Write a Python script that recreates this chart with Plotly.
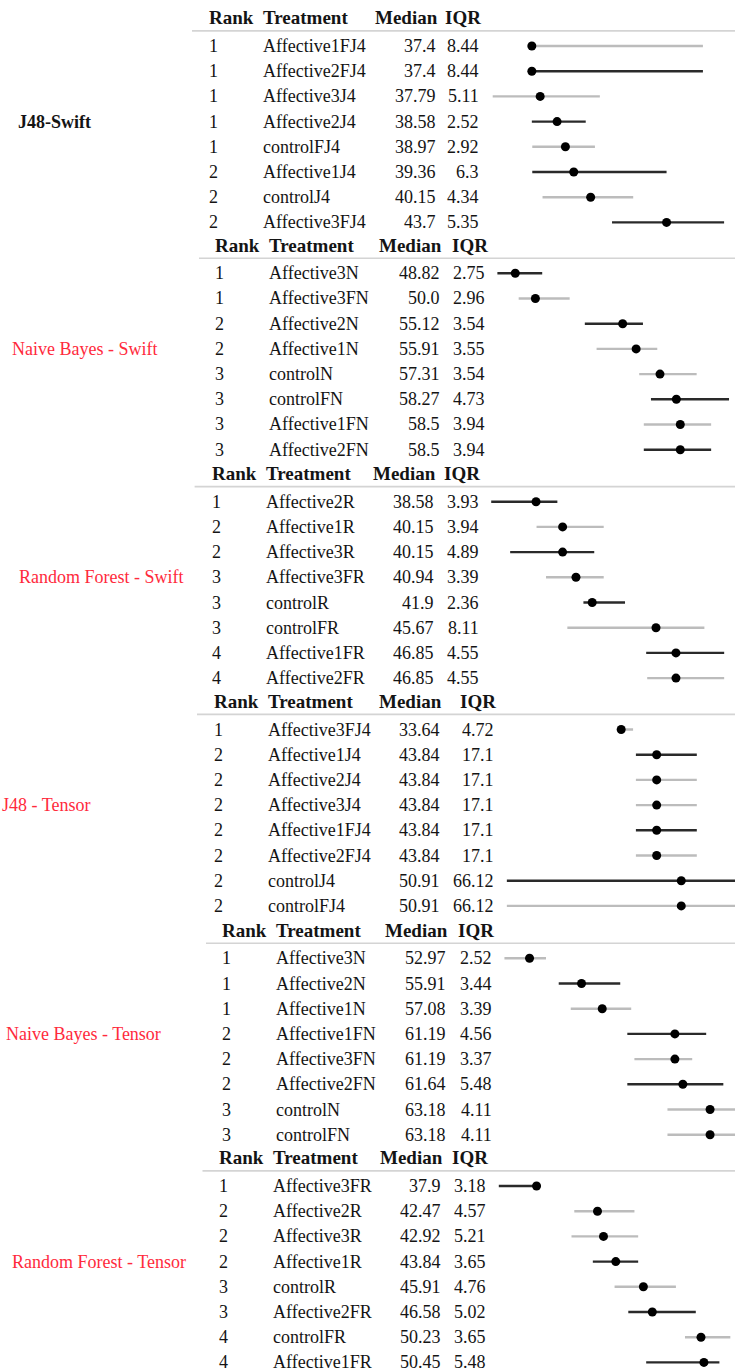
import plotly.graph_objects as go

W, H = 735, 1372
ROW_PX = 25.2

# ---------------- data ----------------
group_names = ["J48-Swift", "Naive Bayes - Swift", "Random Forest - Swift",
               "J48 - Tensor", "Naive Bayes - Tensor", "Random Forest - Tensor"]
header_labels = ["Rank", "Treatment", "Median", "IQR"]

g1_rank = [1, 1, 1, 1, 1, 2, 2, 2]
g1_treat = ["Affective1FJ4", "Affective2FJ4", "Affective3J4", "Affective2J4",
            "controlFJ4", "Affective1J4", "controlJ4", "Affective3FJ4"]
g1_median = [37.4, 37.4, 37.79, 38.58, 38.97, 39.36, 40.15, 43.7]
g1_iqr = [8.44, 8.44, 5.11, 2.52, 2.92, 6.3, 4.34, 5.35]
g1_low = [37.4, 37.4, 35.57, 37.4, 37.42, 37.42, 37.9, 41.15]
g1_high = [45.4, 45.4, 40.58, 39.92, 40.35, 43.7, 42.14, 46.39]

g2_rank = [1, 1, 2, 2, 3, 3, 3, 3]
g2_treat = ["Affective3N", "Affective3FN", "Affective2N", "Affective1N",
            "controlN", "controlFN", "Affective1FN", "Affective2FN"]
g2_median = [48.82, 50.0, 55.12, 55.91, 57.31, 58.27, 58.5, 58.5]
g2_iqr = [2.75, 2.96, 3.54, 3.55, 3.54, 4.73, 3.94, 3.94]
g2_low = [47.77, 49.02, 52.90, 53.59, 56.09, 56.78, 56.36, 56.36]
g2_high = [50.40, 52.01, 56.31, 57.15, 59.46, 61.36, 60.31, 60.31]

g3_rank = [1, 2, 2, 3, 3, 3, 4, 4]
g3_treat = ["Affective2R", "Affective1R", "Affective3R", "Affective3FR",
            "controlR", "controlFR", "Affective1FR", "Affective2FR"]
g3_median = [38.58, 40.15, 40.15, 40.94, 41.9, 45.67, 46.85, 46.85]
g3_iqr = [3.93, 3.94, 4.89, 3.39, 2.36, 8.11, 4.55, 4.55]
g3_low = [35.93, 38.61, 37.05, 39.17, 41.38, 40.43, 45.09, 45.15]
g3_high = [39.84, 42.58, 42.02, 42.58, 43.84, 48.53, 49.70, 49.70]

g4_rank = [1, 2, 2, 2, 2, 2, 2, 2]
g4_treat = ["Affective3FJ4", "Affective1J4", "Affective2J4", "Affective3J4",
            "Affective1FJ4", "Affective2FJ4", "controlJ4", "controlFJ4"]
g4_median = [33.64, 43.84, 43.84, 43.84, 43.84, 43.84, 50.91, 50.91]
g4_iqr = [4.72, 17.1, 17.1, 17.1, 17.1, 17.1, 66.12, 66.12]
g4_low = [32.68, 37.87, 37.87, 37.87, 37.87, 37.87, 0.77, 0.77]
g4_high = [37.06, 55.38, 55.38, 55.38, 55.38, 55.38, 82.0, 82.0]

g5_rank = [1, 1, 1, 2, 2, 2, 3, 3]
g5_treat = ["Affective3N", "Affective2N", "Affective1N", "Affective1FN",
            "Affective3FN", "Affective2FN", "controlN", "controlFN"]
g5_median = [52.97, 55.91, 57.08, 61.19, 61.19, 61.64, 63.18, 63.18]
g5_iqr = [2.52, 3.44, 3.39, 4.56, 3.37, 5.48, 4.11, 4.11]
g5_low = [51.55, 54.62, 55.30, 58.50, 58.90, 58.50, 60.77, 60.77]
g5_high = [53.90, 58.10, 58.72, 62.96, 62.17, 63.93, 65.5, 65.5]

g6_rank = [1, 2, 2, 2, 3, 3, 4, 4]
g6_treat = ["Affective3FR", "Affective2R", "Affective3R", "Affective1R",
            "controlR", "Affective2FR", "controlFR", "Affective1FR"]
g6_median = [37.9, 42.47, 42.92, 43.84, 45.91, 46.58, 50.23, 50.45]
g6_iqr = [3.18, 4.57, 5.21, 3.65, 4.76, 5.02, 3.65, 5.48]
g6_low = [35.07, 40.73, 40.52, 42.12, 43.75, 44.78, 49.03, 46.12]
g6_high = [37.9, 45.24, 45.52, 45.52, 48.35, 49.84, 52.43, 51.61]

# ---------------- styles / layout ----------------
shades = [
    "ldldldld",
    "dldlldld",
    "dldldldl",
    "ldlldldl",
    "ldldldll",
    "dlldldld",
]
DARK, LIGHT = "#2a2a2a", "#bcbcbc"
RED = "#ff2a3c"
TXT = "#141414"
FONT = "Liberation Serif"
FS = 18
FS_HEAD = 19

# per group: first-row pixel, label x, rank x, treatment x, median right, iqr right, rule x0, x-range
geo = [
    dict(f=46.0,   lab=16,  rk=207,   tr=261,   md=438,   iq=481,   rule=192,   xr=(35.35, 46.90), lc=TXT, bold=True),
    dict(f=273.3,  lab=10,  rk=213,   tr=267,   md=442,   iq=487.5, rule=199,   xr=(47.22, 61.71), lc=RED, bold=False),
    dict(f=501.7,  lab=17,  rk=209.5, tr=263.5, md=436,   iq=480.5, rule=194.6, xr=(35.74, 50.34), lc=RED, bold=False),
    dict(f=729.5,  lab=0,   rk=212,   tr=266,   md=441.5, iq=495.5, rule=197,   xr=(-4.65, 66.36), lc=RED, bold=False),
    dict(f=958.3,  lab=3.5, rk=220,   tr=274,   md=447.7, iq=493.7, rule=206,   xr=(50.62, 64.59), lc=RED, bold=False),
    dict(f=1186.0, lab=10,  rk=216.6, tr=270.5, md=443,   iq=487.6, rule=202.5, xr=(34.26, 52.78), lc=RED, bold=False),
]
PLOT_X0 = 488  # pixel left of whisker area

data = [
    (g1_rank, g1_treat, g1_median, g1_iqr, g1_low, g1_high),
    (g2_rank, g2_treat, g2_median, g2_iqr, g2_low, g2_high),
    (g3_rank, g3_treat, g3_median, g3_iqr, g3_low, g3_high),
    (g4_rank, g4_treat, g4_median, g4_iqr, g4_low, g4_high),
    (g5_rank, g5_treat, g5_median, g5_iqr, g5_low, g5_high),
    (g6_rank, g6_treat, g6_median, g6_iqr, g6_low, g6_high),
]

fig = go.Figure()
annotations = []
shapes = []
layout_axes = {}

TOP_U, BOT_U = -1.55, 7.45
HEAD_U, RULE_U = -1.12, -0.6

for g, (rank, treat, med, iqr, lo, hi) in enumerate(data):
    k = g + 1
    gm = geo[g]
    xa = "x" if k == 1 else f"x{k}"
    ya = "y" if k == 1 else f"y{k}"
    top_px = gm["f"] + TOP_U * ROW_PX
    bot_px = gm["f"] + BOT_U * ROW_PX
    bot_px_c = min(bot_px, H)
    r_end = TOP_U + (bot_px_c - top_px) / ROW_PX
    layout_axes["xaxis" if k == 1 else f"xaxis{k}"] = dict(
        domain=[PLOT_X0 / W, 1], range=list(gm["xr"]), anchor=ya,
        visible=False, showgrid=False, zeroline=False, fixedrange=True)
    layout_axes["yaxis" if k == 1 else f"yaxis{k}"] = dict(
        domain=[1 - bot_px_c / H, 1 - top_px / H], range=[r_end, TOP_U], anchor=xa,
        visible=False, showgrid=False, zeroline=False, fixedrange=True)

    rows = list(range(len(treat)))
    for i in rows:
        fig.add_trace(go.Scatter(
            x=[lo[i], hi[i]], y=[i, i], mode="lines", xaxis=xa, yaxis=ya,
            line=dict(color=DARK if shades[g][i] == "d" else LIGHT, width=2.4),
            hoverinfo="skip", showlegend=False))
    fig.add_trace(go.Scatter(
        x=med, y=rows, mode="markers", xaxis=xa, yaxis=ya,
        marker=dict(color="black", size=9), showlegend=False,
        text=treat, hovertemplate="%{text}: %{x}<extra></extra>"))

    yref = ya
    # header
    for lab, xpx, anc in zip(header_labels, [gm["rk"], gm["tr"], gm["md"] + 2, gm["iq"] + 2],
                             ["left", "left", "right", "right"]):
        annotations.append(dict(text=f"<b>{lab}</b>", x=xpx / W, xref="paper", y=HEAD_U, yref=yref,
                                xanchor=anc, yanchor="middle", showarrow=False,
                                font=dict(family=FONT, size=FS_HEAD, color=TXT)))
    # rule
    shapes.append(dict(type="line", xref="paper", yref=yref, x0=gm["rule"] / W, x1=1,
                       y0=RULE_U, y1=RULE_U, line=dict(color="#d4d4d4", width=1.6)))
    # rows
    for i in rows:
        cells = [(str(rank[i]), gm["rk"], "left"), (treat[i], gm["tr"], "left"),
                 (str(med[i]), gm["md"], "right"), (str(iqr[i]), gm["iq"], "right")]
        for txt, xpx, anc in cells:
            annotations.append(dict(text=txt, x=xpx / W, xref="paper", y=i, yref=yref,
                                    xanchor=anc, yanchor="middle", showarrow=False,
                                    font=dict(family=FONT, size=FS, color=TXT)))
    # group label
    lab_txt = f"<b>{group_names[g]}</b>" if gm["bold"] else group_names[g]
    annotations.append(dict(text=lab_txt, x=gm["lab"] / W, xref="paper", y=3, yref=yref,
                            xanchor="left", yanchor="middle", showarrow=False,
                            font=dict(family=FONT, size=FS, color=gm["lc"])))

fig.update_layout(
    width=W, height=H, margin=dict(l=0, r=0, t=0, b=0),
    paper_bgcolor="white", plot_bgcolor="rgba(0,0,0,0)",
    annotations=annotations, shapes=shapes, showlegend=False,
    **layout_axes)

fig.write_html("out.html", config={"displayModeBar": False},
               post_script="document.body.style.margin='0';document.body.style.overflow='hidden';")
